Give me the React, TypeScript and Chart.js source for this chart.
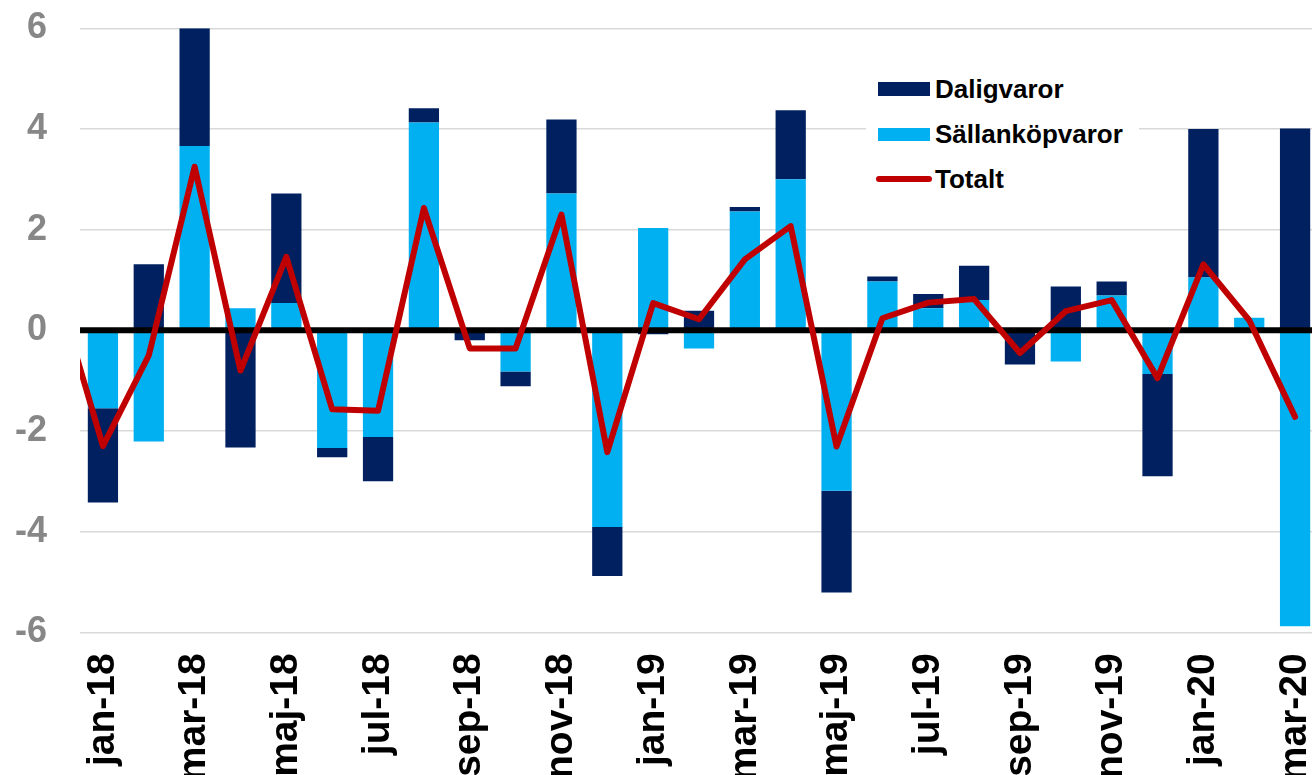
import React, { useEffect, useRef } from 'react';
import { Chart, registerables } from 'chart.js';

Chart.register(...registerables);

const months = [
  'jan-18', 'feb-18', 'mar-18', 'apr-18', 'maj-18', 'jun-18', 'jul-18', 'aug-18', 'sep-18', 'okt-18', 'nov-18', 'dec-18',
  'jan-19', 'feb-19', 'mar-19', 'apr-19', 'maj-19', 'jun-19', 'jul-19', 'aug-19', 'sep-19', 'okt-19', 'nov-19', 'dec-19',
  'jan-20', 'feb-20', 'mar-20',
];
const prevMonth = 'dec-17';

const daligvaror = [
  -1.87, 1.31, 2.34, -2.33, 2.18, -0.18, -0.88, 0.28, -0.2, -0.29, 1.47, -0.97,
  -0.08, 0.39, 0.09, 1.37, -2.02, 0.1, 0.28, 0.68, -0.68, 0.87, 0.28, -2.03,
  2.95, 0, 4.01,
];
const sallankopvaror = [
  -1.55, -2.21, 3.66, 0.44, 0.54, -2.34, -2.12, 4.13, 0, -0.82, 2.72, -3.91,
  2.03, -0.36, 2.36, 3.0, -3.19, 0.97, 0.44, 0.6, 0, -0.62, 0.69, -0.87,
  1.05, 0.25, -5.88,
];
const totaltPrev = 0.8;
const totalt = [
  -2.3, -0.5, 3.25, -0.8, 1.46, -1.57, -1.6, 2.43, -0.36, -0.36, 2.3, -2.42,
  0.54, 0.22, 1.41, 2.07, -2.31, 0.24, 0.55, 0.62, -0.45, 0.38, 0.6, -0.95,
  1.31, 0.2, -1.72,
];
const yMin = -6;
const yMax = 6;
const yStep = 2;

const DARK = '#002060';
const LIGHT = '#00B0F0';
const RED = '#C00000';
const FONT = '"Liberation Sans", Arial, sans-serif';

export default function App() {
  const ref = useRef<HTMLCanvasElement>(null);

  useEffect(() => {
    const canvas = ref.current;
    if (!canvas) return;
    const labels = [prevMonth, ...months];

    const zeroLine = {
      id: 'zeroLine',
      beforeDatasetDraw(chart: any, args: any) {
        if (args.index !== 2) return;
        const c = chart.ctx;
        const y = chart.scales.y.getPixelForValue(0);
        const { left, right } = chart.chartArea;
        c.save();
        c.strokeStyle = '#000000';
        c.lineWidth = 6;
        c.beginPath();
        c.moveTo(left, y);
        c.lineTo(right, y);
        c.stroke();
        c.restore();
      },
    };

    const chart = new Chart(canvas, {
      type: 'bar',
      data: {
        labels,
        datasets: [
          {
            label: 'Sällanköpvaror',
            data: [null, ...sallankopvaror],
            backgroundColor: LIGHT,
            borderWidth: 0,
            stack: 'bars',
            order: 2,
            barPercentage: 0.66,
            categoryPercentage: 1,
          },
          {
            label: 'Daligvaror',
            data: [null, ...daligvaror],
            backgroundColor: DARK,
            borderWidth: 0,
            stack: 'bars',
            order: 2,
            barPercentage: 0.66,
            categoryPercentage: 1,
          },
          {
            type: 'line',
            label: 'Totalt',
            data: [totaltPrev, ...totalt],
            borderColor: RED,
            backgroundColor: RED,
            borderWidth: 6,
            pointRadius: 0,
            tension: 0,
            fill: false,
            borderJoinStyle: 'round',
            borderCapStyle: 'round',
            stack: 'total',
            order: 1,
          } as any,
        ],
      },
      options: {
        animation: false,
        responsive: false,
        devicePixelRatio: 1,
        layout: { padding: { top: 28.3, left: 0, right: 0, bottom: 0 } },
        plugins: {
          legend: { display: false },
          tooltip: { enabled: false },
        },
        scales: {
          x: {
            type: 'category',
            min: 'jan-18',
            offset: true,
            stacked: true,
            grid: { display: false, drawTicks: false },
            border: { display: false },
            ticks: {
              autoSkip: false,
              minRotation: 90,
              maxRotation: 90,
              padding: 21,
              color: '#000000',
              font: { family: FONT, size: 39, weight: 'bold' },
              callback: (value: any) => {
                const i = Number(value);
                return i % 2 === 1 ? labels[i] : '';
              },
            },
            afterFit: (scale: any) => {
              scale.height = 142.7;
              scale.paddingLeft = 0;
              scale.paddingRight = 0;
            },
          },
          y: {
            min: yMin,
            max: yMax,
            stacked: true,
            grid: {
              drawTicks: false,
              color: (ctx: any) => (ctx.tick && ctx.tick.value === 0 ? 'rgba(0,0,0,0)' : '#D9D9D9'),
              lineWidth: 1.5,
            },
            border: { display: false },
            ticks: {
              stepSize: yStep,
              padding: 33,
              color: '#878787',
              font: { family: FONT, size: 36, weight: 'bold' },
              callback: (value: any) => String(value),
            },
            afterFit: (scale: any) => {
              scale.width = 80;
              scale.paddingTop = 0;
              scale.paddingBottom = 0;
            },
          },
        },
      },
      plugins: [zeroLine],
    } as any);

    return () => chart.destroy();
  }, []);

  const textStyle: React.CSSProperties = {
    position: 'absolute',
    left: 935,
    font: `700 26px ${FONT}`,
    lineHeight: '26px',
    color: '#000000',
    whiteSpace: 'nowrap',
  };

  return (
    <div
      style={{
        position: 'fixed',
        left: 0,
        top: 0,
        width: 1312,
        height: 775,
        overflow: 'hidden',
        background: '#ffffff',
      }}
    >
      <canvas ref={ref} width={1318} height={775} style={{ position: 'absolute', left: 0, top: 0, width: 1318, height: 775 }} />
      <div style={{ position: 'absolute', left: 866, top: 66, width: 273, height: 132, background: '#ffffff' }} />
      <div style={{ position: 'absolute', left: 878, top: 82, width: 52, height: 14, background: DARK }} />
      <span style={{ ...textStyle, top: 76.3 }}>Daligvaror</span>
      <div style={{ position: 'absolute', left: 878, top: 127.5, width: 52, height: 13.5, background: LIGHT }} />
      <span style={{ ...textStyle, top: 121.3 }}>Sällanköpvaror</span>
      <div style={{ position: 'absolute', left: 876, top: 176, width: 56, height: 6, borderRadius: 3, background: RED }} />
      <span style={{ ...textStyle, top: 166.3 }}>Totalt</span>
    </div>
  );
}
